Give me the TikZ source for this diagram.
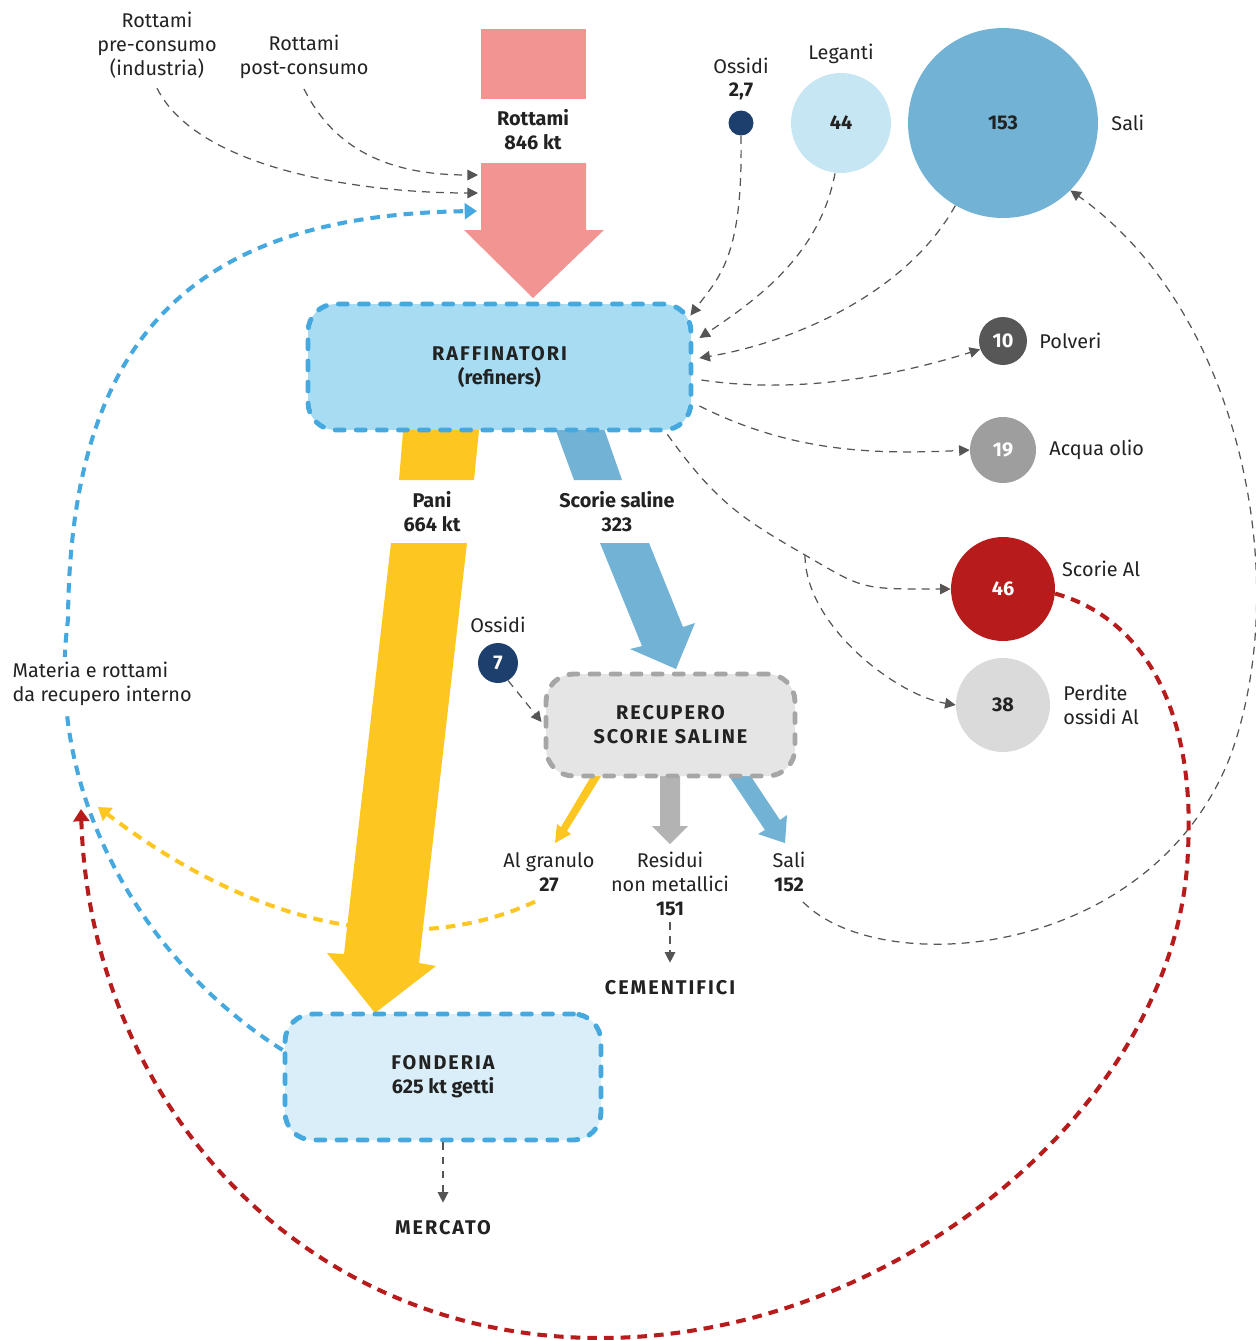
\documentclass[tikz,border=0pt]{standalone}
\usepackage{fontspec}
\setmainfont{Fira Sans}
\usepackage{xcolor}
\usetikzlibrary{arrows.meta,calc,positioning,backgrounds}

\definecolor{txt}{HTML}{222222}
\definecolor{rosa}{HTML}{F29492}
\definecolor{giallo}{HTML}{FDC621}
\definecolor{azzurro}{HTML}{72B2D4}
\definecolor{celeste}{HTML}{A8DCF3}
\definecolor{bordo}{HTML}{45A9E0}
\definecolor{fondo}{HTML}{D9EEF9}
\definecolor{grigio}{HTML}{E5E5E5}
\definecolor{grigiob}{HTML}{A6A6A6}
\definecolor{residui}{HTML}{B3B3B3}
\definecolor{rosso}{HTML}{B71B1B}
\definecolor{blu}{HTML}{1C3F6E}
\definecolor{scuro}{HTML}{575757}
\definecolor{medio}{HTML}{9E9E9E}
\definecolor{chiaro}{HTML}{DADADA}
\definecolor{legante}{HTML}{C5E6F2}
\definecolor{freccia}{HTML}{555555}

\newcommand\spaz[1]{{\addfontfeature{LetterSpace=10}#1}}

\begin{document}
\begin{tikzpicture}[x=0.02cm,y=-0.02cm]
  \tikzset{ lab/.style={font=\fontsize{11.3}{13.6}\selectfont,text=txt,align=center,inner sep=1pt},
    bf/.style={lab,font=\fontsize{11.3}{13.6}\selectfont\bfseries},
    blocco/.style={bf,rounded corners=0.55cm,line width=2.8pt,dash pattern=on 5pt off 7pt,line cap=round},
    bolla/.style={circle,inner sep=0pt,font=\fontsize{11.3}{13.6}\selectfont\bfseries},
    tratt/.style={freccia,line width=0.7pt,dash pattern=on 4.5pt off 3.5pt,-{Triangle[length=6pt,width=6pt]}},
    ciclo/.style={line width=2.3pt,dash pattern=on 5.5pt off 4pt,-{Triangle[length=7pt,width=9pt]}},
  }
  \useasboundingbox (0,0) rectangle (1256,1340);

  % ingressi
  \node[lab] (pre) at (157,45) {Rottami\\pre-consumo\\(industria)};
  \node[lab] (post) at (304,57) {Rottami\\post-consumo};
  \node[bf] (rott) at (533,130) {Rottami\\846 kt};
  \coordinate (in1) at (478,175);
  \coordinate (in2) at (478,193);
  \coordinate (in3) at (477,211);

  % bolle in alto
  \node[bolla,fill=blu,minimum size=0.5cm] (oss1) at (741,123) {};
  \node[lab] (oss1l) at (741,79) {Ossidi\\\textbf{2,7}};
  \node[bolla,fill=legante,text=txt,minimum size=2cm] (leg) at (841,123) {44};
  \node[lab] (legl) at (841,54) {Leganti};
  \node[bolla,fill=azzurro,text=txt,minimum size=3.8cm] (sali) at (1003,123) {153};
  \node[lab,right=0.22cm of sali] (salil) {Sali};

  % uscite a destra
  \node[bolla,fill=scuro,text=white,minimum size=0.96cm] (polv) at (1003,341) {10};
  \node[lab,right=0.2cm of polv] (polvl) {Polveri};
  \node[bolla,fill=medio,text=white,minimum size=1.32cm] (acq) at (1003,450) {19};
  \node[lab,right=0.22cm of acq] (acql) {Acqua olio};
  \node[bolla,fill=rosso,text=white,minimum size=2.08cm] (scal) at (1003,589) {46};
  \node[lab,anchor=west] (scall) at (1060,569) {Scorie Al};
  \node[bolla,fill=chiaro,text=txt,minimum size=1.88cm] (perd) at (1003,705) {38};
  \node[lab,align=left,right=0.22cm of perd] (perdl) {Perdite\\ossidi Al};

  % blocchi
  \node[blocco,fill=celeste,draw=bordo,minimum width=7.66cm,minimum height=2.52cm] (raff) at (499.5,367) {\spaz{RAFFINATORI}\\(refiners)};
  \node[blocco,fill=grigio,draw=grigiob,minimum width=4.98cm,minimum height=2.04cm] (rec) at (670.5,725) {\spaz{RECUPERO}\\\spaz{SCORIE SALINE}};
  \node[blocco,fill=fondo,draw=bordo,minimum width=6.32cm,minimum height=2.52cm] (fond) at (443,1077) {\spaz{FONDERIA}\\625 kt getti};

  % etichette dei flussi
  \node[bf] (pani) at (432,512) {Pani\\664 kt};
  \node[bf] (scor) at (617,512) {Scorie saline\\323};
  \node[lab] (oss2l) at (498,625) {Ossidi};
  \node[bolla,fill=blu,text=white,minimum size=0.8cm] (oss2) at (498,663) {7};
  \node[lab] (algr) at (549,872) {Al granulo\\\textbf{27}};
  \node[lab] (res) at (670,884) {Residui\\non metallici\\\textbf{151}};
  \node[lab] (sal2) at (789,872) {Sali\\\textbf{152}};
  \node[bf] (cem) at (670,988) {\spaz{CEMENTIFICI}};
  \node[bf] (merc) at (443,1228) {\spaz{MERCATO}};

  \coordinate (br) at (805,555);
  \coordinate (bl) at (68,620);
  \coordinate (gin) at (98,807);
  \coordinate (redin) at (81,809);
  \coordinate (rr) at (1188,850);
  \coordinate (rb) at (600,1338);
  \coordinate (gr) at (1230,757);

  % frecce larghe
  \begin{scope}[on background layer]
    \draw[ciclo,giallo] ($(algr.south)+(-14,8)$) .. controls (430,950) and (280,945) .. (gin);
    \fill[rosa] (481,29) rectangle (586,99);
    \fill[rosa] (481,163) -- (586,163) -- (586,230) -- (604,230) -- (533,298) -- (464,230) -- (481,230) -- cycle;
    \fill[giallo] (404,420) -- (480,420) -- (474,480) -- (399,480) -- cycle;
    \fill[giallo] (391,543) -- (467,543) -- (419,963) -- (436,966) -- (375,1013) -- (327,953) -- (344,954) -- cycle;
    \fill[azzurro] (552,420) -- (601,420) -- (622,480) -- (574,480) -- cycle;
    \fill[azzurro] (600,543) -- (649,543) -- (683,627) -- (695,623) -- (676,669) -- (630,649) -- (642,646) -- cycle;
    \fill[giallo] (606,768) -- (599,763) -- (561,827) -- (557,824) -- (555,843) -- (571,834) -- (567,831) -- cycle;
    \fill[residui] (660,770) -- (680,770) -- (680,826) -- (688,826) -- (670,844) -- (652,826) -- (660,826) -- cycle;
    \fill[azzurro] (744,766) -- (729,776) -- (765,830) -- (758,834) -- (785,843) -- (787,815) -- (780,820) -- cycle;
  \end{scope}

  % flussi tratteggiati
  \draw[tratt] ($(pre.south)+(0,8)$) .. controls +(40,80) and +(-120,0) .. (in2);
  \draw[tratt] ($(post.south)+(0,8)$) .. controls +(30,60) and +(-90,0) .. (in1);
  \draw[tratt] (oss1.south) .. controls +(2,120) and +(30,-40) .. ($(raff.north east)+(-3,14)$);
  \draw[tratt] ($(leg.south)+(-6,0)$) .. controls +(-15,80) and +(60,-40) .. ($(raff.east)+(6,-29)$);
  \draw[tratt] (sali.240) .. controls +(-50,90) and +(90,-15) .. ($(raff.east)+(6,-9)$);
  \draw[tratt] ($(raff.east)+(8,13)$) .. controls +(100,15) and +(-80,25) .. (polv.200);
  \draw[tratt] ($(raff.east)+(6,39)$) .. controls +(90,45) and +(-100,5) .. (acq.west);
  \draw[tratt] ($(raff.south east)+(-26,2)$) .. controls +(50,70) and +(-60,-35) .. (br)
    .. controls +(60,35) and +(-90,0) .. (scal.west);
  \draw[tratt] (br) .. controls +(0,70) and +(-60,-10) .. (perd.west);
  \draw[tratt] (oss2.-60) -- ($(rec.west)+(-2,-3)$);
  \draw[tratt] ($(res.south)+(0,4)$) -- ($(cem.north)+(0,-16)$);
  \draw[tratt] (fond.south) -- ($(merc.north)+(0,-16)$);
  \draw[tratt] ($(sal2.south)+(14,8)$) .. controls (880,980) and (1150,960) .. (gr)
    .. controls (1295,580) and (1240,310) .. (sali.-45);

  % ricircoli
  \draw[ciclo,bordo] ($(fond.west)+(0,-27)$) .. controls (140,960) and (45,790) .. (bl)
    .. controls (70,330) and (200,215) .. (in3);
  \draw[ciclo,rosso] (scal.-5) .. controls (1150,620) and (1195,720) .. (rr)
    .. controls (1180,1100) and (900,1338) .. (rb)
    .. controls (300,1338) and (90,1100) .. (redin);

  \node[lab,align=left,anchor=west,fill=white,inner sep=3pt] (mat) at (7,684) {Materia e rottami\\da recupero interno};
\end{tikzpicture}
\end{document}
